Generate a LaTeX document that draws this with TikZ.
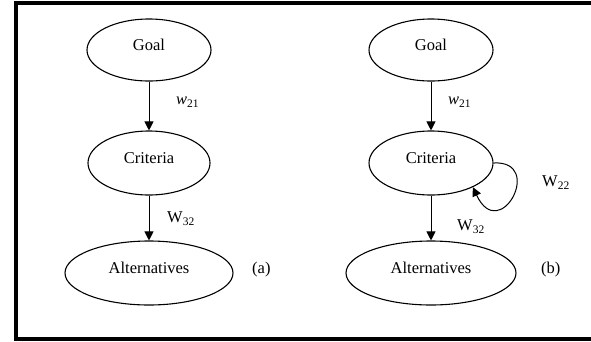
\documentclass[tikz,border=0pt]{standalone}
\usepackage{fontspec}
\setmainfont{Liberation Serif}
\usetikzlibrary{arrows.meta,shapes.geometric}
\newcommand{\mysub}[2]{#1\raisebox{-3pt}{\fontsize{11.5}{13}\selectfont\upshape #2}}
\begin{document}
\begin{tikzpicture}[x=1pt,y=-1pt,
  ell/.style={draw,ellipse,line width=1.1pt,inner sep=0pt},
  lbl/.style={anchor=base west,inner sep=0pt,font=\fontsize{16.5}{19}\selectfont},
  arr/.style={line width=1pt,-{Triangle[length=9pt,width=9pt]}}]
\useasboundingbox (0,0) rectangle (591,341);
\draw[line width=4pt] (16,3) rectangle (600,339);
% (a)
\node[ell,minimum width=124pt,minimum height=62pt] (ga) at (149,50) {\raisebox{0pt}[0pt][0pt]{\fontsize{16.5}{19}\selectfont Goal}};
\node[ell,minimum width=122pt,minimum height=64pt] (ca) at (149,163) {\raisebox{0pt}[0pt][0pt]{\fontsize{16.5}{19}\selectfont Criteria}};
\node[ell,minimum width=168pt,minimum height=64pt] (aa) at (149,273) {\raisebox{0pt}[0pt][0pt]{\fontsize{16.5}{19}\selectfont Alternatives}};
\draw[arr] (ga) -- (ca);
\draw[arr] (ca) -- (aa);
\node[lbl] (la1) at (176,104) {\mysub{{\itshape w}}{21}};
\node[lbl] (la2) at (167,222) {\mysub{W}{32}};
\node[lbl] (la3) at (252,273) {(a)};
% (b)
\node[ell,minimum width=124pt,minimum height=62pt] (gb) at (431,50) {\raisebox{0pt}[0pt][0pt]{\fontsize{16.5}{19}\selectfont Goal}};
\node[ell,minimum width=124pt,minimum height=64pt] (cb) at (431,163) {\raisebox{0pt}[0pt][0pt]{\fontsize{16.5}{19}\selectfont Criteria}};
\node[ell,minimum width=170pt,minimum height=64pt] (ab) at (431,273) {\raisebox{0pt}[0pt][0pt]{\fontsize{16.5}{19}\selectfont Alternatives}};
\draw[arr] (gb) -- (cb);
\draw[arr] (cb) -- (ab);
\draw[arr] (cb.east) .. controls (545,160) and (500,245) .. (cb.-30);
\node[lbl] (lb1) at (448,104) {\mysub{{\itshape w}}{21}};
\node[lbl] (lb4) at (542,186) {\mysub{W}{22}};
\node[lbl] (lb2) at (457,230) {\mysub{W}{32}};
\node[lbl] (lb3) at (541,273) {(b)};
\end{tikzpicture}
\end{document}
